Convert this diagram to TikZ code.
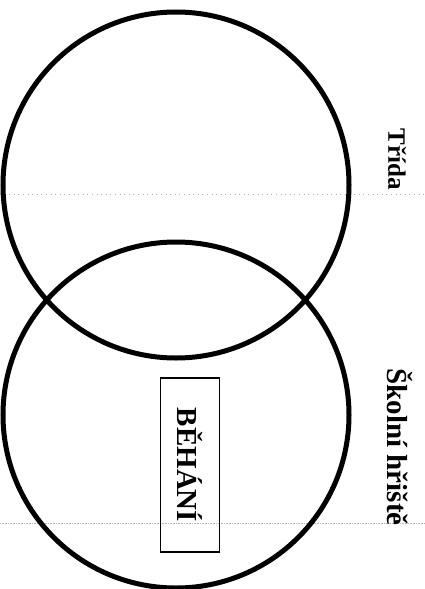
\documentclass[tikz,border=0pt]{standalone}
\usepackage{fontspec}
\setmainfont{Liberation Serif}
\usepackage{tikz}
\usetikzlibrary{positioning}

\begin{document}
\begin{tikzpicture}[
    x=1pt, y=-1pt,
    every node/.style={font=\fontsize{29}{31}\selectfont\bfseries},
    zone/.style={circle, draw, line width=5pt, minimum size=346pt, inner sep=0pt},
    placename/.style={rotate=-90, inner sep=0pt},
    activity/.style={rectangle, draw, line width=1.3pt, minimum width=174pt, minimum height=59pt, rotate=-90},
    scanline/.style={gray!60, line width=0.6pt}
]
\useasboundingbox (0,0) rectangle (425,589);
\draw[scanline, loosely dotted] (0,194) -- (425,194);
\draw[scanline, densely dotted] (0,523) -- (425,523);
\node[zone] (trida) at (176,185) {};
\node[zone] (hriste) at (176,415) {};
\node[placename, font=\fontsize{25}{27}\selectfont\bfseries] (tridaname) at (397,159) {Třída};
\node[placename] (hristename) at (400,447) {Školní hřiště};
\node[activity] (behani) at (190,465) {BĚHÁNÍ};
\end{tikzpicture}
\end{document}
